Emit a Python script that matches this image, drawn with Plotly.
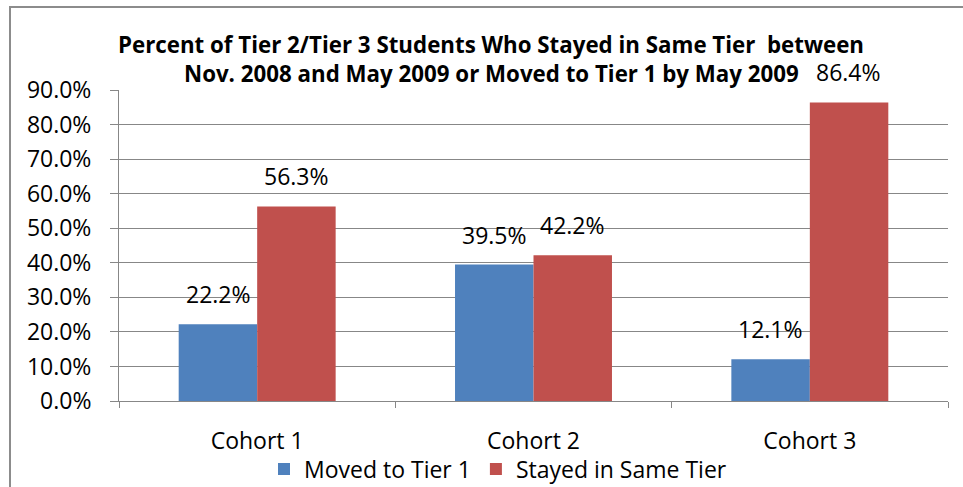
import plotly.graph_objects as go

categories = ["Cohort 1", "Cohort 2", "Cohort 3"]
moved = [0.222, 0.395, 0.121]
stayed = [0.563, 0.422, 0.864]
series_names = ["Moved to Tier 1", "Stayed in Same Tier"]
title_lines = ["Percent of Tier 2/Tier 3 Students Who Stayed in Same Tier  between",
               "Nov. 2008 and May 2009 or Moved to Tier 1 by May 2009"]
yticks = [0.0, 0.1, 0.2, 0.3, 0.4, 0.5, 0.6, 0.7, 0.8, 0.9]

FONT = "Open Sans"
BLUE = "#4F81BD"
RED = "#C0504D"
GRID = "#878787"
FS = 23

L, R, T, B = 119, 15, 90, 86
W, H = 963 - L - R, 487 - T - B


def px_x(x):
    return (x - L) / W


def px_y(y):
    return (487 - B - y) / H


fig = go.Figure()
fig.add_trace(go.Bar(name=series_names[0], x=categories, y=moved,
                     marker=dict(color=BLUE, line=dict(width=0))))
fig.add_trace(go.Bar(name=series_names[1], x=categories, y=stayed,
                     marker=dict(color=RED, line=dict(width=0))))

annotations = []
for vals, shift in ((moved, -39), (stayed, 39)):
    for c, v in zip(categories, vals):
        annotations.append(dict(x=c, y=v, xref="x", yref="y", text=f"{v*100:.1f}%",
                                showarrow=False, xshift=shift, yshift=12,
                                yanchor="bottom", xanchor="center",
                                font=dict(family=FONT, size=FS, color="black")))

for line, ypix in zip(title_lines, (45, 73)):
    annotations.append(dict(x=px_x(491), y=px_y(ypix), xref="paper", yref="paper", text=line,
                            showarrow=False, xanchor="center", yanchor="middle",
                            font=dict(family=FONT, size=22.3, color="black", weight="bold")))

fig.update_layout(
    width=963, height=487,
    margin=dict(l=L, r=R, t=T, b=B, autoexpand=False),
    paper_bgcolor="white", plot_bgcolor="white",
    barmode="group", bargap=0.432, bargroupgap=0,
    font=dict(family=FONT, size=FS, color="black"),
    showlegend=True,
    legend=dict(orientation="h", x=px_x(498), xanchor="center",
                y=px_y(469), yanchor="middle",
                font=dict(family=FONT, size=FS), itemwidth=30,
                traceorder="normal", bgcolor="rgba(0,0,0,0)"),
    annotations=annotations,
    shapes=[dict(type="rect", xref="paper", yref="paper",
                 x0=px_x(10), x1=px_x(1000),
                 y0=px_y(700), y1=px_y(7),
                 line=dict(color="#8C8C8C", width=2), fillcolor="rgba(0,0,0,0)", layer="below")],
)
fig.update_xaxes(type="category", showgrid=False, showline=True, linecolor=GRID, linewidth=1,
                 ticks="outside", tickson="boundaries", ticklen=6, tickcolor=GRID,
                 ticklabelstandoff=19, tickfont=dict(family=FONT, size=FS, color="black"))
fig.update_yaxes(range=[0, 0.9], tickvals=yticks, tickformat=".1%", showgrid=True,
                 gridcolor=GRID, gridwidth=1, showline=True, linecolor=GRID, linewidth=1,
                 ticks="outside", ticklen=8, tickcolor=GRID, zeroline=False,
                 ticklabelstandoff=14,
                 tickfont=dict(family=FONT, size=FS, color="black"))

fig.write_html("out.html", config={"displayModeBar": False},
               post_script="document.body.style.margin='0px';")
